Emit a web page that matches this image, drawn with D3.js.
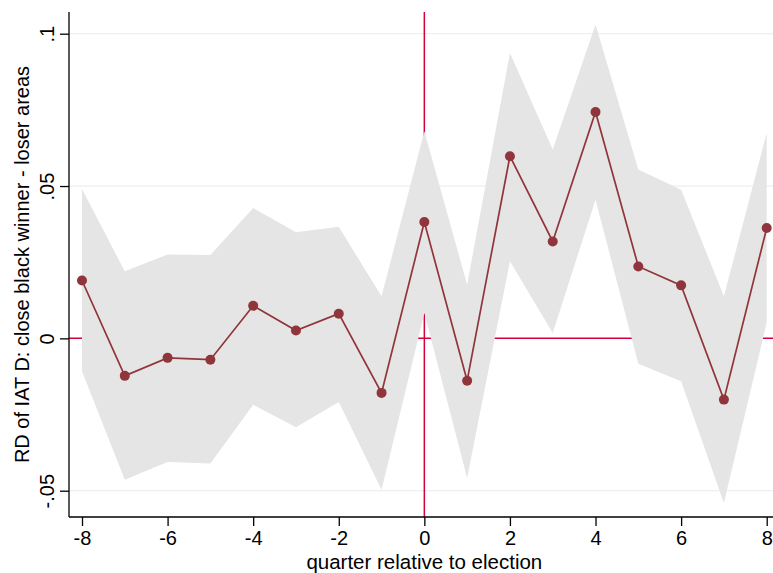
<!DOCTYPE html>
<html>
<head>
<meta charset="utf-8">
<script src="https://cdn.jsdelivr.net/npm/d3@7"></script>
<style>
	body { margin: 0; background: #fff; }
	text { font-family: "Liberation Sans", Arial, sans-serif; fill: #000; }
</style>
</head>
<body>
<div id="chart"></div>
<script>
// quarters relative to election
var quarters = [-8, -7, -6, -5, -4, -3, -2, -1, 0, 1, 2, 3, 4, 5, 6, 7, 8];
// RD estimates
var estimates = [0.0190, -0.0123, -0.0064, -0.0070, 0.0107, 0.0026, 0.0081, -0.0179, 0.0382,
	-0.0139, 0.0598, 0.0318, 0.0743, 0.0236, 0.0174, -0.0201, 0.0362];
// confidence band
var upper = [0.0490, 0.0220, 0.0275, 0.0274, 0.0428, 0.0348, 0.0366, 0.0138, 0.0680,
	0.0176, 0.0937, 0.0620, 0.1030, 0.0554, 0.0488, 0.0138, 0.0674];
var lower = [-0.0108, -0.0464, -0.0406, -0.0411, -0.0218, -0.0292, -0.0209, -0.0497, 0.0083,
	-0.0458, 0.0253, 0.0018, 0.0455, -0.0083, -0.0141, -0.0540, 0.0052];
var xTicks = [-8, -6, -4, -2, 0, 2, 4, 6, 8];
var yTicks = [-0.05, 0, 0.05, 0.1];
var yTickLabels = ["-.05", "0", ".05", ".1"];

var data = quarters.map(function (q, i) {
	return {x: q, y: estimates[i], hi: upper[i], lo: lower[i]};
});

var width = 773, height = 573;
var margin = {top: 12, right: 0, bottom: 57, left: 69};

var x = d3.scaleLinear().domain([-8, 8]).range([82, 766.7]);
var y = d3.scaleLinear().domain([-0.05, 0.1]).range([490.7, 33.7]);

var svg = d3.select("#chart").append("svg")
	.attr("width", width)
	.attr("height", height);

var plotLeft = margin.left, plotTop = margin.top;
var plotBottom = height - margin.bottom + 1, plotRight = width;

// grid lines
svg.append("g").selectAll("line.grid")
	.data(yTicks.filter(function (d) { return d !== 0; }))
	.enter().append("line")
	.attr("x1", plotLeft).attr("x2", plotRight)
	.attr("y1", function (d) { return y(d); })
	.attr("y2", function (d) { return y(d); })
	.attr("stroke", "#eaf0f3")
	.attr("stroke-width", 1.3);

// reference lines
svg.append("line")
	.attr("x1", plotLeft).attr("x2", plotRight)
	.attr("y1", y(0)).attr("y2", y(0))
	.attr("stroke", "#d5003c").attr("stroke-width", 1.5);
svg.append("line")
	.attr("x1", x(0)).attr("x2", x(0))
	.attr("y1", plotTop).attr("y2", plotBottom)
	.attr("stroke", "#d5003c").attr("stroke-width", 1.5);

// confidence band
var area = d3.area()
	.x(function (d) { return x(d.x); })
	.y0(function (d) { return y(d.lo); })
	.y1(function (d) { return y(d.hi); });

svg.append("path")
	.datum(data)
	.attr("d", area)
	.attr("fill", "#e5e5e5");

// estimate line
var line = d3.line()
	.x(function (d) { return x(d.x); })
	.y(function (d) { return y(d.y); });

svg.append("path")
	.datum(data)
	.attr("d", line)
	.attr("fill", "none")
	.attr("stroke", "#90353b")
	.attr("stroke-width", 1.7);

svg.append("g").selectAll("circle")
	.data(data)
	.enter().append("circle")
	.attr("cx", function (d) { return x(d.x); })
	.attr("cy", function (d) { return y(d.y); })
	.attr("r", 5)
	.attr("fill", "#90353b");

// y axis
var yAxis = svg.append("g")
	.attr("transform", "translate(" + plotLeft + ",0)")
	.call(d3.axisLeft(y).tickValues(yTicks).tickSize(9).tickPadding(0)
		.tickFormat(function (d, i) { return yTickLabels[i]; }));
yAxis.select(".domain").attr("d", "M0," + plotTop + "V" + plotBottom)
	.attr("stroke", "#000").attr("stroke-width", 1.3);
yAxis.selectAll(".tick line").attr("stroke", "#000").attr("stroke-width", 1.3);
yAxis.selectAll(".tick text")
	.attr("x", null).attr("dy", null)
	.attr("text-anchor", "middle")
	.attr("font-size", "20px")
	.attr("transform", "translate(-15,0) rotate(-90)");

// x axis
var xAxis = svg.append("g")
	.attr("transform", "translate(0," + plotBottom + ")")
	.call(d3.axisBottom(x).tickValues(xTicks).tickSize(9).tickPadding(5)
		.tickFormat(d3.format("d")));
xAxis.select(".domain").attr("d", "M" + plotLeft + ",0H" + plotRight)
	.attr("stroke", "#000").attr("stroke-width", 1.3);
xAxis.selectAll(".tick line").attr("stroke", "#000").attr("stroke-width", 1.3);
xAxis.selectAll(".tick text").attr("font-size", "20px");
xAxis.selectAll(".tick text").text(function (d) { return d < 0 ? "-" + Math.abs(d) : d; });

// axis titles
svg.append("text")
	.attr("x", x(0))
	.attr("y", 569)
	.attr("text-anchor", "middle")
	.attr("font-size", "20.5px")
	.text("quarter relative to election");

svg.append("text")
	.attr("transform", "translate(29," + ((plotTop + plotBottom) / 2) + ") rotate(-90)")
	.attr("text-anchor", "middle")
	.attr("font-size", "20px")
	.text("RD of IAT D: close black winner - loser areas");
</script>
</body>
</html>
